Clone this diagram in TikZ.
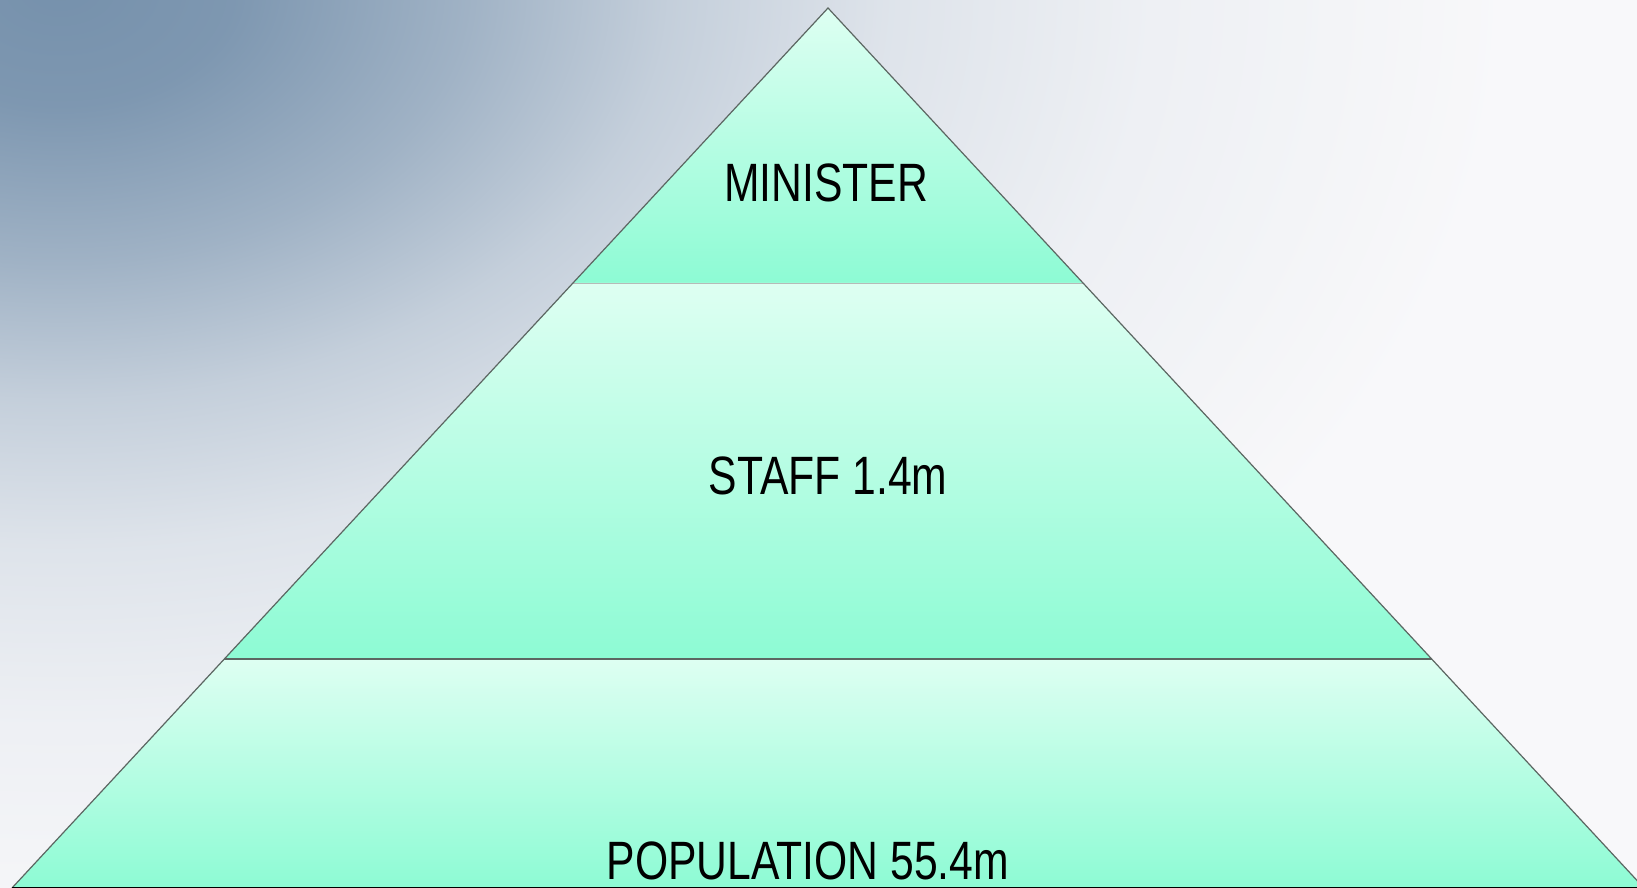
\documentclass[tikz,border=0pt]{standalone}
\usepackage{fontspec}
\setmainfont{Liberation Sans}
\newfontfamily\tierfont[FakeStretch=0.79]{Liberation Sans}
\usetikzlibrary{positioning}
\definecolor{steel}{HTML}{7691AC}
\definecolor{haze}{HTML}{F8F8FA}
\colorlet{skyA}{steel!94!haze}
\colorlet{skyB}{steel!68!haze}
\colorlet{skyC}{steel!40!haze}
\colorlet{skyD}{steel!20!haze}
\colorlet{skyE}{steel!8!haze}
\definecolor{mintlight}{HTML}{DEFFF2}
\definecolor{mintdark}{HTML}{8DFBD4}
\definecolor{rim}{HTML}{5C6662}
\definecolor{baseline}{HTML}{4E9C84}

\pgfdeclareradialshading{skyglow}{\pgfpoint{0bp}{0bp}}{color(0bp)=(steel); color(3bp)=(skyA); color(7bp)=(skyB); color(10.5bp)=(skyC); color(14.25bp)=(skyD); color(18.75bp)=(skyE); color(25bp)=(haze); color(50bp)=(haze)}

\tikzset{
	band/.style={top color=mintlight, bottom color=mintdark},
	tier/.style={font=\tierfont\fontsize{54}{60}\selectfont, inner sep=0pt, anchor=base, text=black},
}

\begin{document}
\begin{tikzpicture}[x=1pt,y=1pt]
	\useasboundingbox (0,0) rectangle (1637,888);
	\clip (0,0) rectangle (1637,888);

	% background
	\fill[haze] (0,0) rectangle (1637,888);
	\shade[shading=skyglow] (60,900) ellipse (1450 and 980);

	\coordinate (T) at (828,880);
	\coordinate (ML) at (573,605);
	\coordinate (MR) at (1083,605);
	\coordinate (SL) at (224,229);
	\coordinate (SR) at (1432,229);
	\coordinate (BL) at (12,0);
	\coordinate (BR) at (1644,0);

	% tiers
	\shade[band] (T) -- (MR) -- (ML) -- cycle;
	\shade[band] (ML) -- (MR) -- (SR) -- (SL) -- cycle;
	\shade[band] (SL) -- (SR) -- (BR) -- (BL) -- cycle;

	\draw[rim!45, line width=0.8] (ML) -- (MR);
	\draw[rim, line width=1.6] (SL) -- (SR);
	\draw[rim, line width=1.2] (BL) -- (T) -- (BR);
	\draw[baseline, line width=2] (BL) -- (BR);

	\node[tier] (M) at (826,686) {MINISTER};
	\node[tier] (S) at (828,393) {STAFF 1.4m};
	\node[tier] (P) at (808,8) {POPULATION 55.4m};

\end{tikzpicture}
\end{document}
